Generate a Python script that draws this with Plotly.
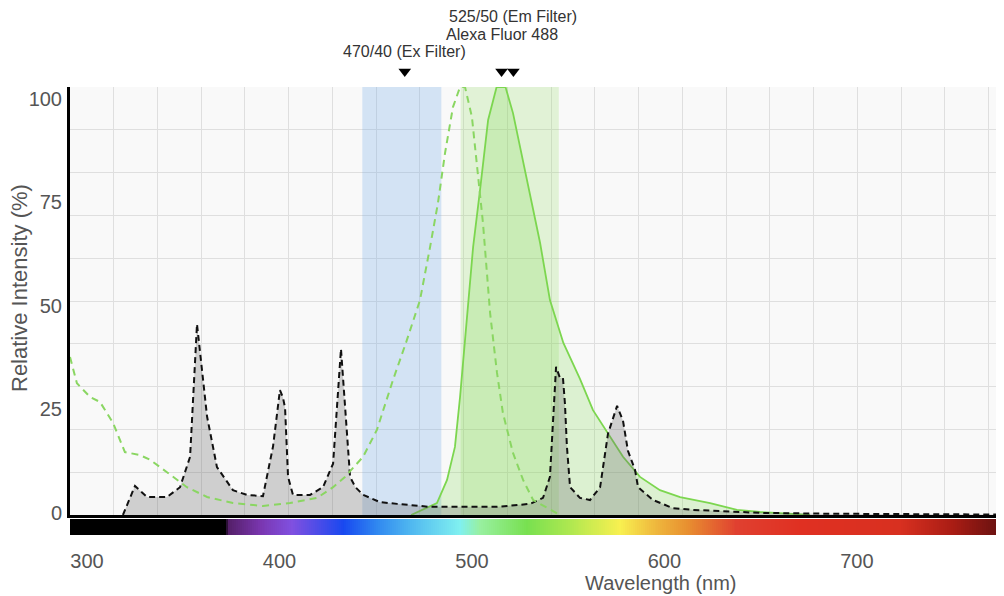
import plotly.graph_objects as go

# ---------------- data ----------------
# Mercury arc lamp spectrum (grey, dashed black outline)
hg_nm = [327.3, 333.4, 339.5, 349.6, 356.2, 361.3, 364.8, 366.3, 369.9, 374.9, 383.0, 390.1,
         398.2, 403.3, 406.8, 408.3, 409.4, 410.9, 413.4, 422.0, 428.6, 433.7, 437.7, 442.3,
         445.0, 448.9, 457.5, 466.1, 482.8, 499.5, 516.7, 533.4, 540.0, 543.5, 546.6, 548.6,
         550.1, 551.1, 552.1, 553.7, 558.7, 563.8, 568.9, 572.9, 577.5, 580.5, 583.0, 586.6,
         588.1, 595.7, 605.8, 615.9, 649.9, 683.8, 720.8, 773.4]
hg_val = [0, 6.8, 4.2, 4.2, 6.5, 13.6, 44.6, 38, 23, 11.2, 5.8, 4.7,
          4.4, 16, 29.2, 27.5, 25, 8.9, 4.7, 4.7, 6.5, 12, 38.8, 8.9,
          6.5, 4.7, 3.0, 2.6, 1.9, 1.9, 1.9, 2.6, 4.0, 8.9, 34.6, 32,
          32, 26, 16, 6.5, 4.0, 3.5, 6.5, 19, 25.5, 22, 15, 10.5,
          6.5, 3.5, 1.6, 1.2, 0.5, 0.3, 0.2, 0.1]

# Alexa Fluor 488 excitation (dashed green)
ex_nm = [300.5, 304.0, 310.6, 315.7, 322.3, 328.3, 335.9, 341.0, 349.6, 359.7, 369.9, 383.0,
         398.2, 411.9, 425.6, 433.7, 439.7, 448.9, 455.9, 464.0, 471.1, 477.7, 482.8, 486.8,
         490.4, 494.4, 498.0, 500.5, 504.0, 507.1, 509.6, 513.2, 516.7, 519.7, 524.8, 529.9,
         535.0, 548.6]
ex_val = [36.9, 30.8, 27.6, 26.4, 21.5, 14.7, 14.0, 12.9, 10.0, 6.5, 4.2, 2.8,
          2.1, 2.8, 4.0, 6.5, 8.9, 13.6, 19.9, 31.5, 40.9, 50.2, 62.6, 72.9,
          84.6, 95.3, 100, 100, 93, 80, 68.2, 47.2, 33.2, 23.8, 14.5, 8.2,
          3.5, 0]

# Alexa Fluor 488 emission (solid green, filled)
em_nm = [473.2, 486.3, 491.4, 495.4, 498.0, 501.5, 504.6, 508.1, 512.2, 516.5, 521.0,
         524.8, 529.9, 534.3, 538.5, 543.5, 550.3, 558.7, 565.3, 572.9, 580.5, 589.1, 599.2,
         609.4, 624.6, 638.2, 649.9, 675.2]
em_val = [0, 2.8, 8.2, 15.9, 27.6, 47.2, 62.6, 75.9, 92.3, 100, 100,
          93.9, 82.2, 72.9, 63.6, 50.2, 40.2, 31.8, 24.5, 19.2, 13.6, 8.9, 5.8,
          4.2, 2.8, 1.2, 0.7, 0]

# Filters
ex_filter_nm = [448.5, 448.5, 488.5, 488.5]
ex_filter_val = [0, 100, 100, 0]
em_filter_nm = [498.3, 498.3, 548.0, 548.0]
em_filter_val = [0, 100, 100, 0]

# Peak markers and their labels (marker strip above the plot, units = px above plot top)
peak_nm = [470, 519, 525]
peak_labels = ["470/40 (Ex Filter)", "Alexa Fluor 488", "525/50 (Em Filter)"]
marker_level = 15.5
label_levels = [36, 53, 71]

# Axis ticks
x_tick_vals = [300, 400, 500, 600, 700]
y_tick_vals = [0, 25, 50, 75, 100]

# Visible-spectrum colour strip
spectrum_nm = [300, 379, 381, 397, 413, 439, 456, 473, 498, 508, 532, 554, 579, 594, 613,
               638, 670, 721, 748, 774]
spectrum_colors = ['#000000', '#000000', '#55206a', '#7a36b0', '#8050e0', '#1848f0', '#3088f0',
                   '#50b8f0', '#80f0f0', '#98f0a0', '#78e050', '#b0e850', '#f8f050', '#f0c040',
                   '#e89030', '#e04030', '#e03022', '#d83020', '#a81c14', '#601010']
strip_nm = list(range(300, 775))

# ---------------- figure ----------------
FONT = "Liberation Sans, Arial, sans-serif"
GREEN = "#7cd64f"
X_RANGE = [300.5, 773.4]
H_PLOT = 527.0  # height of the plotting region (px)

def frac(px_from_top):
    return (H_PLOT - px_from_top) / H_PLOT

fig = go.Figure()

fig.add_trace(go.Scatter(x=ex_filter_nm, y=ex_filter_val, fill="toself", mode="lines",
                         line=dict(width=0), fillcolor="rgba(100,165,230,0.25)",
                         hoverinfo="skip"))
fig.add_trace(go.Scatter(x=em_filter_nm, y=em_filter_val, fill="toself", mode="lines",
                         line=dict(width=0), fillcolor="rgba(140,220,90,0.22)",
                         hoverinfo="skip"))
fig.add_trace(go.Scatter(x=em_nm, y=em_val, fill="tozeroy", mode="lines",
                         line=dict(color=GREEN, width=1.8),
                         fillcolor="rgba(120,215,70,0.22)"))
fig.add_trace(go.Scatter(x=hg_nm, y=hg_val, fill="tozeroy", mode="lines",
                         line=dict(color="#111111", width=2, dash="6px,4px"),
                         fillcolor="rgba(110,110,110,0.3)"))
fig.add_trace(go.Scatter(x=ex_nm, y=ex_val, mode="lines",
                         line=dict(color="#8ad662", width=2, dash="7px,5px")))

# peak markers in the strip above the plot
fig.add_trace(go.Scatter(x=peak_nm, y=[marker_level] * len(peak_nm), mode="markers",
                         marker=dict(symbol="triangle-down", size=11, color="black"),
                         xaxis="x3", yaxis="y4", hoverinfo="skip"))

# colour strip
n0, n1 = strip_nm[0], strip_nm[-1]
colorscale = [[(w - n0) / (n1 - n0), c] for w, c in zip(spectrum_nm, spectrum_colors)]
fig.add_trace(go.Heatmap(x=strip_nm, y=[0.5], z=[strip_nm], colorscale=colorscale,
                         zmin=n0, zmax=n1, showscale=False, xaxis="x", yaxis="y3",
                         hoverinfo="skip"))

# dummy traces to establish label-only axes
fig.add_trace(go.Scatter(x=[None], y=[None], xaxis="x2", yaxis="y2", hoverinfo="skip"))
fig.add_trace(go.Scatter(x=[None], y=[None], xaxis="x2", yaxis="y3", hoverinfo="skip"))

GRID = "#dfdfdf"
HIDDEN = dict(showticklabels=False, showgrid=False, zeroline=False, showline=False,
              ticks="", automargin=False)
# the page body has an 8px margin, so the figure is 8px smaller than the window
fig.update_layout(
    width=996, height=588,
    margin=dict(l=62, r=0, t=0, b=61, autoexpand=False),
    paper_bgcolor="white", plot_bgcolor="rgba(0,0,0,0)",
    showlegend=False,
    font=dict(family=FONT),
    xaxis=dict(domain=[0, 1], range=X_RANGE, anchor="y", automargin=False,
               showgrid=True, gridcolor=GRID, gridwidth=1.3, tick0=X_RANGE[0], dtick=22.15,
               showticklabels=False, ticks="", showline=True, linecolor="black",
               linewidth=3, zeroline=False),
    yaxis=dict(domain=[frac(507), frac(79)], range=[0, 100], anchor="x", dtick=10,
               automargin=False,
               showgrid=True, gridcolor=GRID, gridwidth=1.3, showticklabels=False, ticks="",
               showline=True, linecolor="black", linewidth=3, zeroline=False),
    # label-only axes (the reference's tick labels are spaced slightly off the grid)
    xaxis2=dict(domain=[0, 1], anchor="y3", side="bottom", range=[291.2, 776.4],
                tickvals=x_tick_vals, showgrid=False, zeroline=False, showline=False,
                automargin=False,
                ticks="outside", ticklen=8, tickcolor="rgba(0,0,0,0)",
                tickfont=dict(size=20, color="#555555", family=FONT)),
    yaxis2=dict(domain=[frac(504.5), frac(91)], range=[0, 100], anchor="x2", side="left",
                tickvals=y_tick_vals, showgrid=False, zeroline=False, showline=False,
                automargin=False,
                ticks="outside", ticklen=3, tickcolor="rgba(0,0,0,0)",
                tickfont=dict(size=20, color="#555555", family=FONT)),
    yaxis3=dict(domain=[0, frac(511)], range=[0, 1], anchor="x", **HIDDEN),
    xaxis3=dict(domain=[0, 1], range=X_RANGE, anchor="y4", **HIDDEN),
    yaxis4=dict(domain=[frac(79), 1], range=[0, 79], anchor="x3", **HIDDEN),
)

# light grey plotting background (under the grid)
fig.add_shape(type="rect", xref="x domain", yref="y domain", x0=0, x1=1, y0=0, y1=1,
              fillcolor="#f9f9f9", line=dict(width=0), layer="below")

# titles
fig.add_annotation(text="Relative Intensity (%)", xref="paper", yref="paper",
                   x=(19 - 70) / 934, y=frac(280), textangle=-90,
                   showarrow=False, xanchor="center", yanchor="middle",
                   font=dict(size=22, color="#555555", family=FONT))
fig.add_annotation(text="Wavelength (nm)", xref="paper", yref="paper",
                   x=(661 - 70) / 934, y=frac(575),
                   showarrow=False, xanchor="center", yanchor="middle",
                   font=dict(size=20, color="#555555", family=FONT))

# peak labels (stacked)
for nm, txt, lv in zip(peak_nm, peak_labels, label_levels):
    fig.add_annotation(text=txt, xref="x3", yref="y4", x=nm, y=lv,
                       showarrow=False, xanchor="center", yanchor="middle",
                       font=dict(size=16, color="#333333", family=FONT))

fig.write_html("out.html")
